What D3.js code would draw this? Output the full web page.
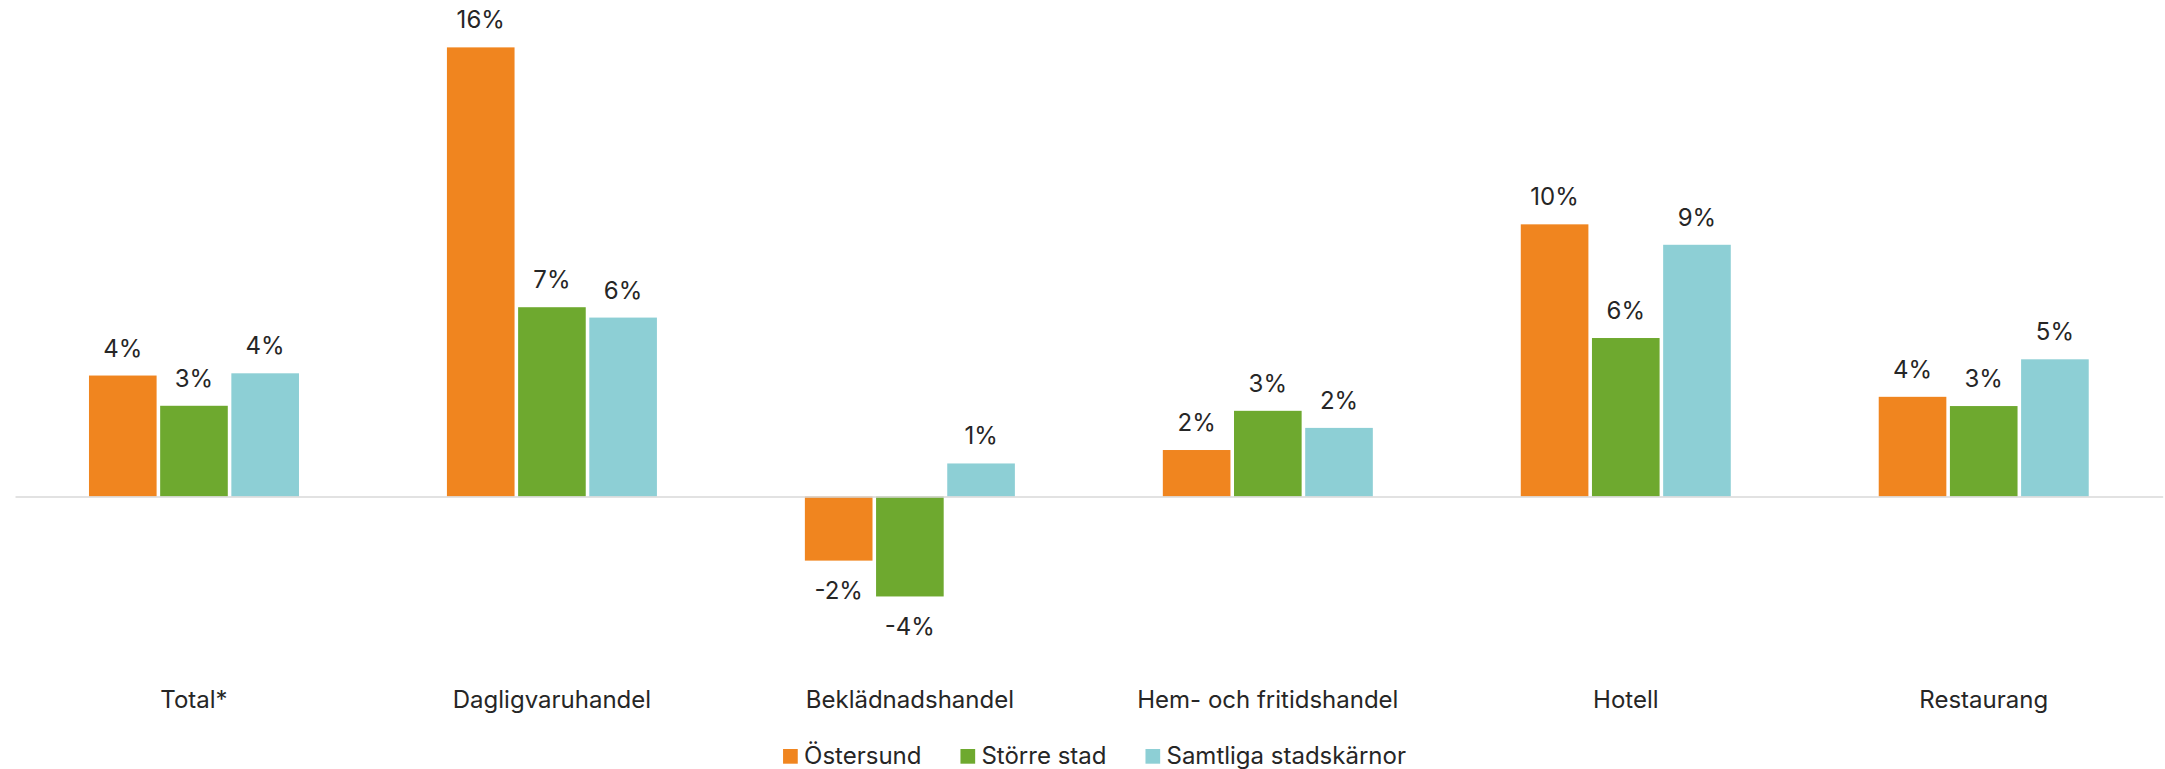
<!DOCTYPE html>
<html>
<head>
<meta charset="utf-8">
<script src="https://cdn.jsdelivr.net/npm/d3@7"></script>
<style>
  html, body { margin: 0; padding: 0; background: #fff; }
  svg { display: block; font-family: Inter, "Open Sans", "Liberation Sans", sans-serif; }
</style>
</head>
<body>
<svg id="chart" width="2165" height="769"></svg>
<script>
const categories = ["Total*", "Dagligvaruhandel", "Beklädnadshandel", "Hem- och fritidshandel", "Hotell", "Restaurang"];
const seriesNames = ["Östersund", "Större stad", "Samtliga stadskärnor"];
const ostersund = [0.0432, 0.1604, -0.0229, 0.0166, 0.0972, 0.0356];
const storreStad = [0.0324, 0.0676, -0.0357, 0.0306, 0.0566, 0.0323];
const samtliga = [0.0440, 0.0639, 0.0118, 0.0245, 0.0899, 0.0490];
const colors = ["#F0851F", "#6EA92F", "#8DCFD5"];

const seriesValues = [ostersund, storreStad, samtliga];
const data = categories.map((c, i) => ({
  category: c,
  values: seriesNames.map((s, j) => ({ series: s, idx: j, value: seriesValues[j][i] }))
}));

const svg = d3.select("#chart");
const left = 15, right = 2162.7;
const plotTop = 20.5, plotBottom = 664.5;
const fontSize = 24;
const textColor = "#262626";

const x0 = d3.scaleBand().domain(categories).range([left, right]).padding(0);
const groupW = 210;
const x1 = d3.scaleBand().domain(seriesNames)
  .range([(x0.bandwidth() - groupW) / 2, (x0.bandwidth() + groupW) / 2])
  .paddingInner(0.05).paddingOuter(0);
const y = d3.scaleLinear().domain([-0.06, 0.17]).range([plotBottom, plotTop]);

const fmt = v => d3.format(".0%")(v).replace("\u2212", "-");

const groups = svg.append("g").selectAll("g").data(data).join("g")
  .attr("transform", d => `translate(${x0(d.category)},0)`);

groups.selectAll("rect").data(d => d.values).join("rect")
  .attr("x", d => x1(d.series))
  .attr("width", x1.bandwidth())
  .attr("y", d => Math.min(y(d.value), y(0)))
  .attr("height", d => Math.abs(y(d.value) - y(0)))
  .attr("fill", d => colors[d.idx]);

groups.selectAll("text.label").data(d => d.values).join("text")
  .attr("class", "label")
  .attr("x", d => x1(d.series) + x1.bandwidth() / 2)
  .attr("y", d => d.value >= 0 ? y(d.value) - 19 : y(d.value) + 38.5)
  .attr("text-anchor", "middle")
  .attr("font-size", fontSize)
  .attr("fill", textColor)
  .text(d => fmt(d.value));

// axis at zero
const axis = svg.append("g")
  .attr("transform", `translate(0,${y(0)})`)
  .call(d3.axisBottom(x0).tickSize(0).tickSizeOuter(0).tickPadding(194.5));
axis.select(".domain").attr("stroke", "#D9D9D9").attr("stroke-width", 1.5);
axis.selectAll(".tick text")
  .attr("font-size", fontSize)
  .attr("font-family", null)
  .attr("fill", textColor);
axis.attr("font-family", null).attr("font-size", null);

// legend
const legend = svg.append("g");
const items = legend.selectAll("g").data(seriesNames).join("g");
items.append("rect")
  .attr("width", 14.7).attr("height", 14.7)
  .attr("y", 749)
  .attr("fill", (d, i) => colors[i]);
items.append("text")
  .attr("x", 21)
  .attr("y", 764)
  .attr("font-size", fontSize)
  .attr("fill", textColor)
  .text(d => d);
let cx = 0;
const offsets = [];
items.each(function(d, i) {
  const w = 21 + this.querySelector("text").getComputedTextLength();
  offsets.push(cx);
  cx += w + 39;
});
const totalW = cx - 39;
const start = 1094.5 - totalW / 2;
items.attr("transform", (d, i) => `translate(${start + offsets[i]},0)`);
</script>
</body>
</html>
